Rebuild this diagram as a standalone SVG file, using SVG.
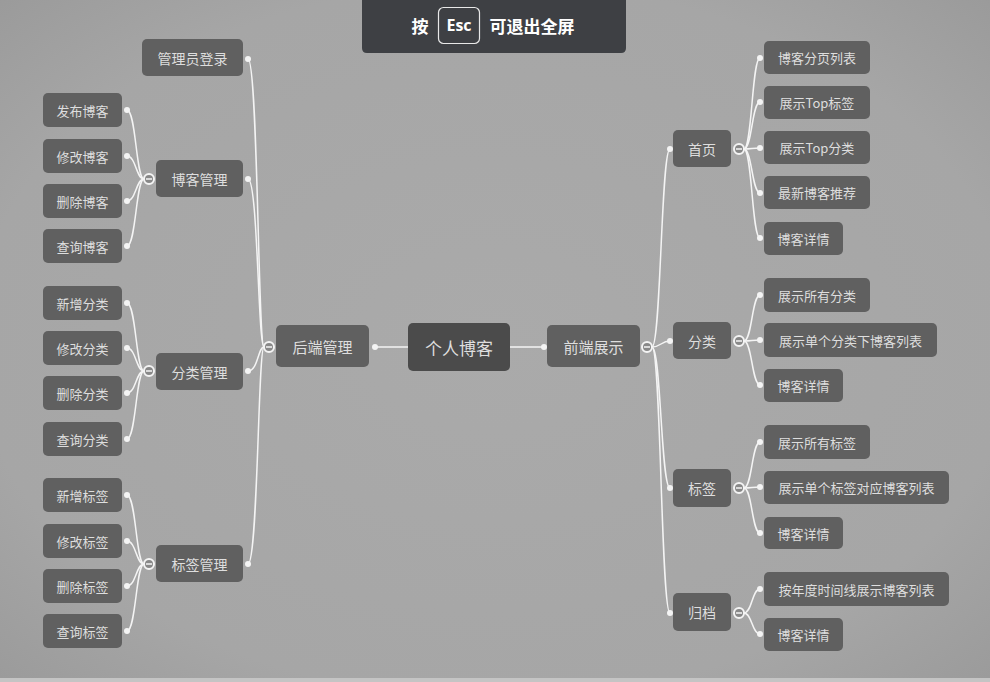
<svg xmlns="http://www.w3.org/2000/svg" width="990" height="682" viewBox="0 0 990 682">
<defs>
<radialGradient id="bg" cx="50%" cy="50%" r="75%">
<stop offset="0" stop-color="#aaaaaa"/>
<stop offset="0.7" stop-color="#a6a6a6"/>
<stop offset="1" stop-color="#989898"/>
</radialGradient>
<style>
.n rect{fill:#606060;}
.c rect{fill:#4b4b4b;}
text{font-family:"Noto Sans CJK SC","Noto Sans",sans-serif;fill:#dedede;text-anchor:middle;dominant-baseline:central;}
.leaf text{font-size:13px;}
.l2 text{font-size:14px;}
.l1 text{font-size:15px;}
.c text{font-size:17px;}
.conn path{fill:none;stroke:#f4f4f4;stroke-width:1.5;}
.dot{fill:#f4f4f4;}
.col circle{fill:#888888;stroke:#f4f4f4;stroke-width:2;}
.col line{stroke:#f4f4f4;stroke-width:1.5;}
.ban text{font-family:"Noto Sans CJK SC","Noto Sans",sans-serif;fill:#ffffff;font-weight:bold;font-size:17px;}
</style>
</defs>
<rect width="990" height="682" fill="url(#bg)"/>
<rect x="0" y="678" width="990" height="4" fill="#c4c4c4"/>

<g id="banner" class="ban">
<path d="M362 0 H626 V48 Q626 53 621 53 H367 Q362 53 362 48 Z" fill="#3e4044"/>
<text x="420" y="25">按</text>
<rect x="438.5" y="7.5" width="41" height="36" rx="5" fill="none" stroke="#e8e8e8" stroke-width="1.2"/>
<text x="459" y="25" style="font-size:16px;font-family:'Open Sans','Noto Sans',sans-serif">Esc</text>
<text x="532" y="25">可退出全屏</text>
</g>

<g class="conn" id="connectors">
<path d="M375 347 H408"/>
<path d="M510 347 H544"/>
<path d="M264 347 C258 347 258 59 248 59"/>
<path d="M264 347 C258 347 258 179 248 179"/>
<path d="M264 347 C258 347 258 371 248 371"/>
<path d="M264 347 C258 347 258 564 248 564"/>
<path d="M144 179 C136 179 136 110 127 110"/>
<path d="M144 179 C136 179 136 156 127 156"/>
<path d="M144 179 C136 179 136 201 127 201"/>
<path d="M144 179 C136 179 136 246 127 246"/>
<path d="M144 371 C136 371 136 303 127 303"/>
<path d="M144 371 C136 371 136 348 127 348"/>
<path d="M144 371 C136 371 136 393 127 393"/>
<path d="M144 371 C136 371 136 439 127 439"/>
<path d="M144 564 C136 564 136 495 127 495"/>
<path d="M144 564 C136 564 136 541 127 541"/>
<path d="M144 564 C136 564 136 586 127 586"/>
<path d="M144 564 C136 564 136 631 127 631"/>
<path d="M652 347 C661 347 661 149 670 149"/>
<path d="M652 347 C661 347 661 341 670 341"/>
<path d="M652 347 C661 347 661 488 670 488"/>
<path d="M652 347 C661 347 661 613 670 613"/>
<path d="M744 149 C752 149 752 58 760 58"/>
<path d="M744 149 C752 149 752 102 760 102"/>
<path d="M744 149 C752 149 752 148 760 148"/>
<path d="M744 149 C752 149 752 193 760 193"/>
<path d="M744 149 C752 149 752 238 760 238"/>
<path d="M744 341 C752 341 752 295 760 295"/>
<path d="M744 341 C752 341 752 340 760 340"/>
<path d="M744 341 C752 341 752 385 760 385"/>
<path d="M744 488 C752 488 752 442 760 442"/>
<path d="M744 488 C752 488 752 487 760 487"/>
<path d="M744 488 C752 488 752 533 760 533"/>
<path d="M744 613 C752 613 752 589 760 589"/>
<path d="M744 613 C752 613 752 634 760 634"/>
</g>

<g id="dots">
<circle class="dot" cx="375" cy="347" r="3"/>
<circle class="dot" cx="544" cy="347" r="3"/>
<circle class="dot" cx="248" cy="59" r="3"/>
<circle class="dot" cx="248" cy="179" r="3"/>
<circle class="dot" cx="248" cy="371" r="3"/>
<circle class="dot" cx="248" cy="564" r="3"/>
<circle class="dot" cx="127" cy="110" r="3"/>
<circle class="dot" cx="127" cy="156" r="3"/>
<circle class="dot" cx="127" cy="201" r="3"/>
<circle class="dot" cx="127" cy="246" r="3"/>
<circle class="dot" cx="127" cy="303" r="3"/>
<circle class="dot" cx="127" cy="348" r="3"/>
<circle class="dot" cx="127" cy="393" r="3"/>
<circle class="dot" cx="127" cy="439" r="3"/>
<circle class="dot" cx="127" cy="495" r="3"/>
<circle class="dot" cx="127" cy="541" r="3"/>
<circle class="dot" cx="127" cy="586" r="3"/>
<circle class="dot" cx="127" cy="631" r="3"/>
<circle class="dot" cx="670" cy="149" r="3"/>
<circle class="dot" cx="670" cy="341" r="3"/>
<circle class="dot" cx="670" cy="488" r="3"/>
<circle class="dot" cx="670" cy="613" r="3"/>
<circle class="dot" cx="760" cy="58" r="3"/>
<circle class="dot" cx="760" cy="102" r="3"/>
<circle class="dot" cx="760" cy="148" r="3"/>
<circle class="dot" cx="760" cy="193" r="3"/>
<circle class="dot" cx="760" cy="238" r="3"/>
<circle class="dot" cx="760" cy="295" r="3"/>
<circle class="dot" cx="760" cy="340" r="3"/>
<circle class="dot" cx="760" cy="385" r="3"/>
<circle class="dot" cx="760" cy="442" r="3"/>
<circle class="dot" cx="760" cy="487" r="3"/>
<circle class="dot" cx="760" cy="533" r="3"/>
<circle class="dot" cx="760" cy="589" r="3"/>
<circle class="dot" cx="760" cy="634" r="3"/>
</g>

<g id="collapsers" class="col">
<g><circle cx="269" cy="347" r="5"/><line x1="266" y1="347" x2="272" y2="347"/></g>
<g><circle cx="149" cy="179" r="5"/><line x1="146" y1="179" x2="152" y2="179"/></g>
<g><circle cx="149" cy="371" r="5"/><line x1="146" y1="371" x2="152" y2="371"/></g>
<g><circle cx="149" cy="564" r="5"/><line x1="146" y1="564" x2="152" y2="564"/></g>
<g><circle cx="647" cy="347" r="5"/><line x1="644" y1="347" x2="650" y2="347"/></g>
<g><circle cx="739" cy="149" r="5"/><line x1="736" y1="149" x2="742" y2="149"/></g>
<g><circle cx="739" cy="341" r="5"/><line x1="736" y1="341" x2="742" y2="341"/></g>
<g><circle cx="739" cy="488" r="5"/><line x1="736" y1="488" x2="742" y2="488"/></g>
<g><circle cx="739" cy="613" r="5"/><line x1="736" y1="613" x2="742" y2="613"/></g>
</g>

<g id="root" class="c"><rect x="408" y="323" width="102" height="48" rx="5"/><text x="459" y="347">个人博客</text></g>
<g id="backend" class="n l1"><rect x="276" y="325" width="93" height="42" rx="5"/><text x="322.5" y="346">后端管理</text></g>
<g id="frontend" class="n l1"><rect x="547" y="325" width="93" height="42" rx="5"/><text x="593.5" y="346">前端展示</text></g>

<g id="admin-login" class="n l2"><rect x="142" y="39" width="101" height="37" rx="5"/><text x="192.5" y="58">管理员登录</text></g>
<g id="blog-mgmt" class="n l2"><rect x="156" y="160" width="87" height="37" rx="5"/><text x="199.5" y="179">博客管理</text></g>
<g id="cat-mgmt" class="n l2"><rect x="156" y="353" width="87" height="37" rx="5"/><text x="199.5" y="371.5">分类管理</text></g>
<g id="tag-mgmt" class="n l2"><rect x="156" y="545" width="87" height="37" rx="5"/><text x="199.5" y="563.5">标签管理</text></g>

<g id="blog-add" class="n leaf"><rect x="43" y="93" width="79" height="34" rx="5"/><text x="82.5" y="110">发布博客</text></g>
<g id="blog-edit" class="n leaf"><rect x="43" y="139" width="79" height="34" rx="5"/><text x="82.5" y="156">修改博客</text></g>
<g id="blog-del" class="n leaf"><rect x="43" y="184" width="79" height="34" rx="5"/><text x="82.5" y="201">删除博客</text></g>
<g id="blog-query" class="n leaf"><rect x="43" y="229" width="79" height="34" rx="5"/><text x="82.5" y="246">查询博客</text></g>

<g id="cat-add" class="n leaf"><rect x="43" y="286" width="79" height="34" rx="5"/><text x="82.5" y="303">新增分类</text></g>
<g id="cat-edit" class="n leaf"><rect x="43" y="331" width="79" height="34" rx="5"/><text x="82.5" y="348">修改分类</text></g>
<g id="cat-del" class="n leaf"><rect x="43" y="376" width="79" height="34" rx="5"/><text x="82.5" y="393">删除分类</text></g>
<g id="cat-query" class="n leaf"><rect x="43" y="422" width="79" height="34" rx="5"/><text x="82.5" y="439">查询分类</text></g>

<g id="tag-add" class="n leaf"><rect x="43" y="478" width="79" height="34" rx="5"/><text x="82.5" y="495">新增标签</text></g>
<g id="tag-edit" class="n leaf"><rect x="43" y="524" width="79" height="34" rx="5"/><text x="82.5" y="541">修改标签</text></g>
<g id="tag-del" class="n leaf"><rect x="43" y="569" width="79" height="34" rx="5"/><text x="82.5" y="586">删除标签</text></g>
<g id="tag-query" class="n leaf"><rect x="43" y="614" width="79" height="34" rx="5"/><text x="82.5" y="631">查询标签</text></g>

<g id="home" class="n l2"><rect x="673" y="130" width="58" height="37" rx="5"/><text x="702" y="148.5">首页</text></g>
<g id="category" class="n l2"><rect x="673" y="322" width="58" height="37" rx="5"/><text x="702" y="340.5">分类</text></g>
<g id="tag" class="n l2"><rect x="673" y="469" width="58" height="38" rx="5"/><text x="702" y="488">标签</text></g>
<g id="archive" class="n l2"><rect x="673" y="593" width="58" height="38" rx="5"/><text x="702" y="612">归档</text></g>

<g id="home-list" class="n leaf"><rect x="764" y="41" width="106" height="33" rx="5"/><text x="817" y="57.5">博客分页列表</text></g>
<g id="home-toptag" class="n leaf"><rect x="764" y="86" width="106" height="33" rx="5"/><text x="817" y="102.5">展示Top标签</text></g>
<g id="home-topcat" class="n leaf"><rect x="764" y="131" width="106" height="33" rx="5"/><text x="817" y="147.5">展示Top分类</text></g>
<g id="home-latest" class="n leaf"><rect x="764" y="176" width="106" height="33" rx="5"/><text x="817" y="192.5">最新博客推荐</text></g>
<g id="home-detail" class="n leaf"><rect x="764" y="222" width="79" height="33" rx="5"/><text x="803.5" y="238.5">博客详情</text></g>

<g id="cat-all" class="n leaf"><rect x="764" y="278" width="106" height="34" rx="5"/><text x="817" y="295">展示所有分类</text></g>
<g id="cat-single" class="n leaf"><rect x="764" y="323" width="173" height="34" rx="5"/><text x="850.5" y="340">展示单个分类下博客列表</text></g>
<g id="cat-detail" class="n leaf"><rect x="764" y="369" width="79" height="33" rx="5"/><text x="803.5" y="385.5">博客详情</text></g>

<g id="tag-all" class="n leaf"><rect x="764" y="425" width="106" height="34" rx="5"/><text x="817" y="442">展示所有标签</text></g>
<g id="tag-single" class="n leaf"><rect x="764" y="471" width="185" height="33" rx="5"/><text x="856.5" y="487.5">展示单个标签对应博客列表</text></g>
<g id="tag-detail" class="n leaf"><rect x="764" y="517" width="79" height="32" rx="5"/><text x="803.5" y="533">博客详情</text></g>

<g id="arc-list" class="n leaf"><rect x="764" y="572" width="185" height="34" rx="5"/><text x="856.5" y="589">按年度时间线展示博客列表</text></g>
<g id="arc-detail" class="n leaf"><rect x="764" y="618" width="79" height="33" rx="5"/><text x="803.5" y="634.5">博客详情</text></g>
</svg>
